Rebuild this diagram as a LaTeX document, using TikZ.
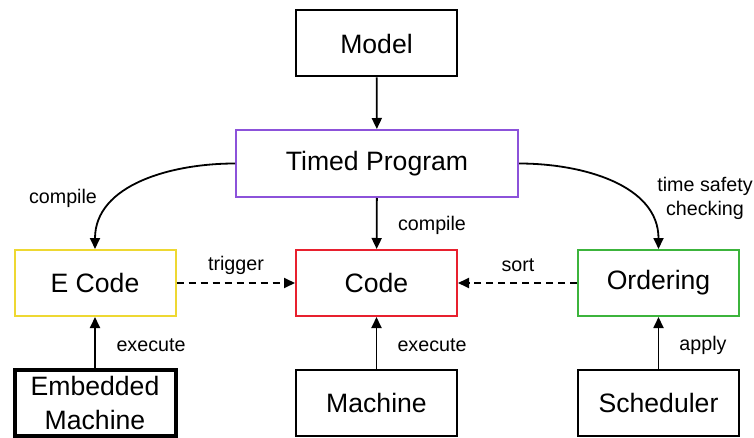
\documentclass[tikz,border=0pt]{standalone}
\usepackage{fontspec}
\setmainfont{Liberation Sans}
\usetikzlibrary{arrows.meta,positioning}
\definecolor{Violet}{HTML}{8C52DA}
\definecolor{Lemon}{HTML}{EED832}
\definecolor{Scarlet}{HTML}{E8202E}
\definecolor{Leaf}{HTML}{3CB43C}

\tikzset{
  box/.style={draw,line width=2pt,minimum width=161pt,minimum height=66pt,
    align=center,font=\fontsize{26.6}{29}\selectfont},
  lbl/.style={font=\fontsize{19.7}{24}\selectfont,align=center},
  arr/.style={-{Triangle[length=11pt,width=10pt]},line width=1.8pt},
  dasharr/.style={arr,dash pattern=on 7pt off 5pt}
}

\begin{document}
\begin{tikzpicture}[x=1pt,y=1pt]
    \useasboundingbox (0,0) rectangle (754,437);
    % boxes
    \node[box] (model) at (376.5,393.5) {Model};
    \node[box,draw=Violet,minimum width=282pt,minimum height=67pt] (tp) at (377,273.5) {Timed Program};
    \node[box,draw=Lemon] (ecode) at (95,154) {E Code};
    \node[box,draw=Scarlet] (code) at (376.5,154) {Code};
    \node[box,draw=Leaf] (ord) at (658.5,154) {Ordering};
    \node[box,line width=4pt,font=\fontsize{26.6}{34}\selectfont] (emb) at (95,34) {Embedded\\Machine};
    \node[box] (mach) at (376.5,34) {Machine};
    \node[box] (sched) at (658.5,34) {Scheduler};
    % labels
    \node[lbl] (compa) at (63,239) {compile};
    \node[lbl] (compb) at (432,212) {compile};
    \node[lbl] (safety) at (705,239) {time safety\\checking};
    \node[lbl] (trig) at (236,172) {trigger};
    \node[lbl] (srt) at (518,172) {sort};
    \node[lbl] (exa) at (151,92) {execute};
    \node[lbl] (exb) at (432,92) {execute};
    \node[lbl] (appl) at (703,92) {apply};
    % connectors
    \draw[arr] (model) -- (tp);
    \draw[arr] (tp) -- (code);
    \draw[arr] (tp.west) to[out=180,in=90] (ecode.north);
    \draw[arr] (tp.east) to[out=0,in=90] (ord.north);
    \draw[dasharr] (ecode) -- (code);
    \draw[dasharr] (ord) -- (code);
    \draw[arr] (emb) -- (ecode);
    \draw[arr] (mach) -- (code);
    \draw[arr] (sched) -- (ord);
  \end{tikzpicture}
\end{document}
